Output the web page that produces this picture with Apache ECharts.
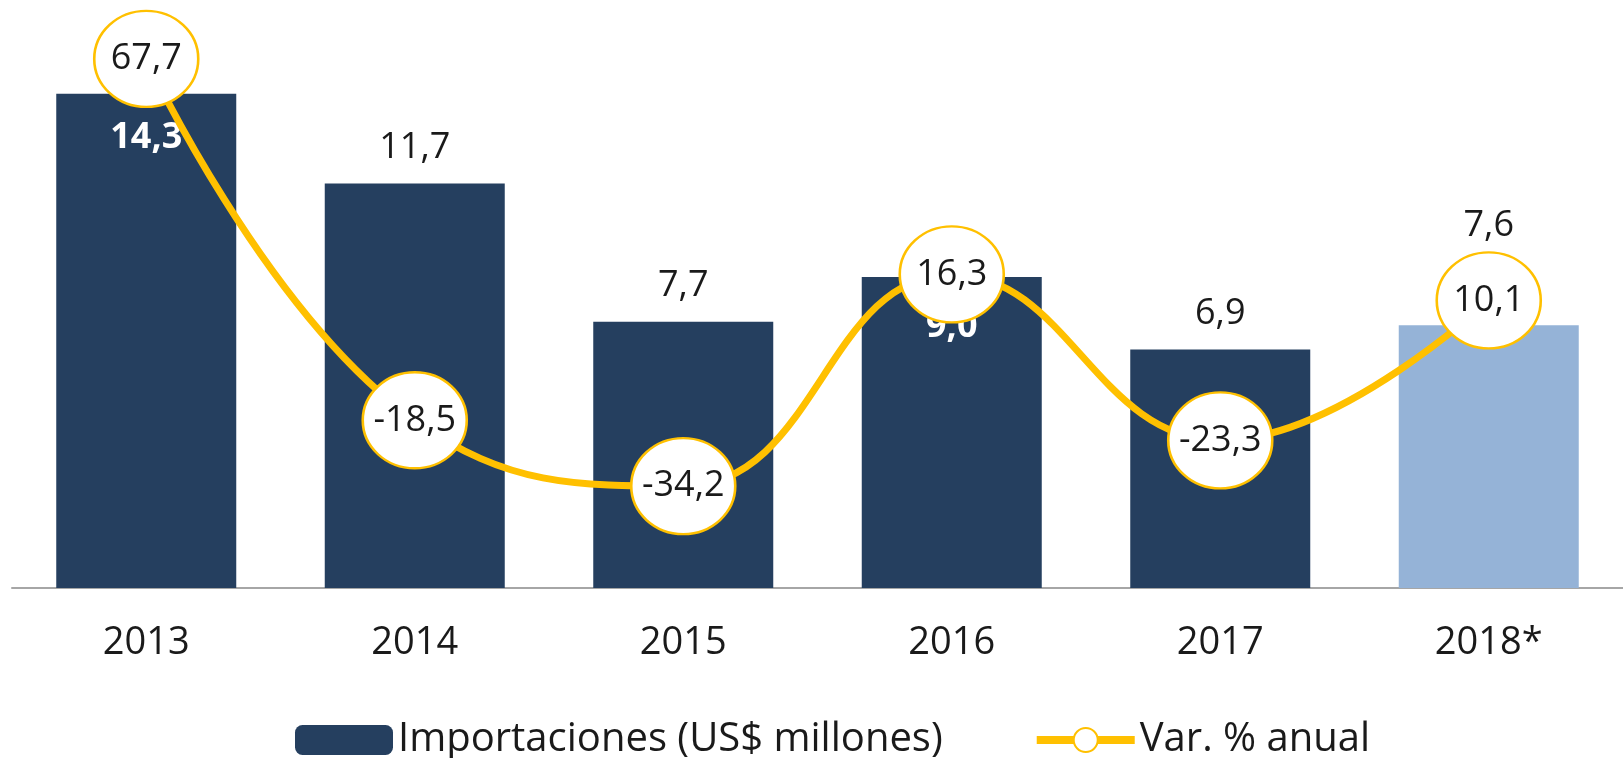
<!DOCTYPE html>
<html>
<head>
<meta charset="utf-8">
<script src="https://cdn.jsdelivr.net/npm/echarts@6/dist/echarts.min.js"></script>
<style>html,body{margin:0;padding:0;background:#fff;}#c{width:1623px;height:758px;}</style>
</head>
<body>
<div id="c"></div>
<script>
const categories = ['2013', '2014', '2015', '2016', '2017', '2018*'];
const imports = [14.3, 11.7, 7.7, 9.0, 6.9, 7.6];
const variation = [67.7, -18.5, -34.2, 16.3, -23.3, 10.1];
const seriesNames = ['Importaciones (US$ millones)', 'Var. % anual'];

const FONT = 'Open Sans';
const fmt = v => v.toFixed(1).replace('.', ',');

const barData = imports.map((v, i) => {
  const d = { value: v };
  if (i === 5) {
    d.itemStyle = { color: '#95B3D7' };
    d.label = { distance: 82 };
  }
  if (i === 0 || i === 3) {
    d.label = { position: 'insideTop', distance: i === 0 ? 26 : 32, color: '#fff', fontWeight: 'bold' };
  }
  return d;
});

const chart = echarts.init(document.getElementById('c'), null, { renderer: 'canvas' });
chart.setOption({
  animation: false,
  backgroundColor: '#fff',
  textStyle: { fontFamily: FONT },
  grid: { left: 12, right: 0, top: 35, bottom: 170 },
  legend: {
    left: 290, top: 715,
    itemWidth: 98, itemHeight: 30, itemGap: 90,
    textStyle: { fontFamily: FONT, fontSize: 40, color: '#1a1a1a' },
    data: [
      { name: seriesNames[0] },
      { name: seriesNames[1], lineStyle: { width: 8, color: '#FFC000' }, itemStyle: { color: '#fff', borderColor: '#FFC000', borderWidth: 2 } }
    ]
  },
  xAxis: {
    type: 'category',
    data: categories,
    axisLine: { lineStyle: { color: '#a6a6a6', width: 2 } },
    axisTick: { show: false },
    axisLabel: { color: '#1a1a1a', fontSize: 38, fontFamily: FONT, margin: 36 }
  },
  yAxis: [
    { type: 'value', min: 0, max: 16, show: false, splitLine: { show: false } },
    { type: 'value', min: -58.5, max: 73.4, show: false, splitLine: { show: false } }
  ],
  series: [
    {
      name: seriesNames[0],
      type: 'bar',
      barWidth: 180,
      data: barData,
      itemStyle: { color: '#253F5F' },
      label: {
        show: true, position: 'top', distance: 18,
        color: '#1a1a1a', fontSize: 36, fontFamily: FONT,
        formatter: p => fmt(p.value)
      },
      z: 2
    },
    {
      name: seriesNames[1],
      type: 'line',
      yAxisIndex: 1,
      data: variation,
      smooth: 0.45,
      symbol: 'circle',
      symbolSize: [104, 96],
      lineStyle: { color: '#FFC000', width: 7 },
      itemStyle: { color: '#fff', borderColor: '#FFC000', borderWidth: 2.5 },
      label: {
        show: true, position: 'inside',
        color: '#1a1a1a', fontSize: 36, fontFamily: FONT,
        formatter: p => fmt(p.value)
      },
      z: 5
    }
  ]
});
</script>
</body>
</html>
